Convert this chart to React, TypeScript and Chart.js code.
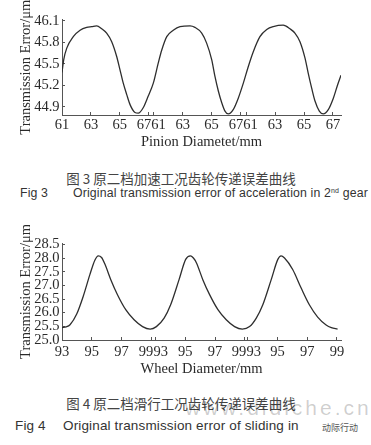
import React, { useEffect, useRef } from "react";
import { Chart, registerables } from "chart.js";
Chart.register(...registerables);

// ---------- Fig 3 : pinion ----------
const pinionX = [0, 0.12, 0.33, 0.78, 1.25, 1.71, 2.06, 2.40, 2.75, 3.09, 3.44, 3.79, 4.01, 4.24, 4.48, 4.71, 5.05, 5.28, 5.63, 5.97, 6.32, 6.66, 6.90, 7.25, 7.70, 8.17, 8.86, 9.20, 9.67, 10.01, 10.36, 10.59, 10.82, 11.05, 11.28, 11.51, 11.85, 12.20, 12.55, 12.89, 13.24, 13.70, 14.17, 14.62, 15.31, 15.78, 16.12, 16.47, 16.82, 17.04, 17.28, 17.51, 17.81, 18.08, 18.43, 18.78, 19.05, 19.31];
const pinionTE = [45.38, 45.56, 45.72, 45.88, 45.97, 46.01, 46.02, 46.03, 45.99, 45.93, 45.81, 45.60, 45.42, 45.23, 45.07, 44.93, 44.82, 44.81, 44.89, 45.05, 45.23, 45.51, 45.69, 45.88, 45.97, 46.02, 46.03, 46.01, 45.93, 45.79, 45.56, 45.32, 45.12, 44.96, 44.84, 44.80, 44.86, 45.02, 45.23, 45.46, 45.67, 45.88, 45.98, 46.02, 46.04, 45.99, 45.93, 45.81, 45.58, 45.37, 45.16, 44.98, 44.84, 44.80, 44.86, 45.02, 45.19, 45.34];
const pinionTickLabels = [61, 63, 65, 67];
const pinionPeriodStarts = [0, 6.35, 12.75];
const pinionYTicks = [44.9, 45.2, 45.5, 45.8, 46.1];

// ---------- Fig 4 : wheel ----------
const wheelX = [0, 0.27, 0.54, 0.99, 1.43, 1.88, 2.21, 2.44, 2.66, 2.87, 3.29, 3.74, 4.30, 4.85, 5.42, 5.93, 6.35, 6.87, 7.31, 7.87, 8.32, 8.64, 8.84, 9.04, 9.48, 9.93, 10.49, 11.05, 11.61, 12.13, 12.62, 13.07, 13.51, 14.07, 14.52, 14.74, 14.97, 15.52, 16.09, 16.64, 17.20, 17.77, 18.12, 18.54];
const wheelTE = [25.45, 25.48, 25.56, 25.95, 26.60, 27.40, 27.92, 28.08, 28.02, 27.80, 27.20, 26.65, 26.10, 25.74, 25.49, 25.40, 25.49, 25.80, 26.29, 27.20, 27.95, 28.08, 28.00, 27.83, 27.20, 26.66, 26.11, 25.74, 25.49, 25.40, 25.49, 25.80, 26.29, 27.20, 27.95, 28.08, 28.00, 27.58, 26.90, 26.29, 25.84, 25.55, 25.45, 25.40];
const wheelTickLabels = [93, 95, 97, 99];
const wheelPeriodStarts = [0, 6.3, 12.5];
const wheelYTicks = [25.0, 25.5, 26.0, 26.5, 27.0, 27.5, 28.0, 28.5];

const SERIF = "'Liberation Serif', 'Times New Roman', 'DejaVu Serif', serif";
const AXIS = "#555";
const TEXT = "#2a2a2a";
const LINE = "#2e2e2e";

type Props = {
  xs: number[];
  ys: number[];
  xMax: number;
  yMin: number;
  yMax: number;
  yTicks: number[];
  tickLabels: number[];
  periodStarts: number[];
  xTitle: string;
  height: number;
  padTop: number;
  xAxisH: number;
  titlePadBottom: number;
  labelPad: number;
};

function TEChart(p: Props) {
  const ref = useRef<HTMLCanvasElement>(null);
  useEffect(() => {
    const marks: { value: number; label: string }[] = [];
    p.periodStarts.forEach((s) => {
      p.tickLabels.forEach((l) => {
        marks.push({ value: s + (l - p.tickLabels[0]), label: String(l) });
      });
    });
    marks.sort((a, b) => a.value - b.value);
    // label positions: spread labels of ticks that sit too close together
    const labelPos = marks.map((m) => m.value);
    for (let i = 0; i < marks.length - 1; i++) {
      const gap = marks[i + 1].value - marks[i].value;
      if (gap < 1) {
        const mid = (marks[i + 1].value + marks[i].value) / 2;
        labelPos[i] = mid - 0.5;
        labelPos[i + 1] = mid + 0.5;
      }
    }
    const labelTexts = marks.map((m) => m.label);
    const tickFont = { family: SERIF, size: 14.5 };

    const chart = new Chart(ref.current as HTMLCanvasElement, {
      type: "line",
      data: {
        datasets: [
          {
            data: p.xs.map((x, i) => ({ x, y: p.ys[i] })),
            borderColor: LINE,
            borderWidth: 1.3,
            pointRadius: 0,
            fill: false,
            cubicInterpolationMode: "monotone",
          },
        ],
      },
      options: {
        animation: false,
        responsive: false,
        maintainAspectRatio: false,
        layout: { padding: { top: p.padTop, right: 30, left: 0, bottom: 0 } },
        plugins: { legend: { display: false }, tooltip: { enabled: false } },
        scales: {
          x: {
            type: "linear",
            min: 0,
            max: p.xMax,
            position: "bottom",
            weight: 0,
            grid: { display: true, drawOnChartArea: false, drawTicks: true, tickLength: -3, color: AXIS, lineWidth: 1 },
            border: { display: true, color: AXIS, width: 1 },
            ticks: { display: false, autoSkip: false },
            afterBuildTicks: (s: any) => {
              s.ticks = marks.map((m) => ({ value: m.value }));
            },
            afterFit: (s: any) => {
              s.height = 0;
            },
          },
          xl: {
            type: "linear",
            min: 0,
            max: p.xMax,
            position: "bottom",
            weight: 1,
            grid: { display: false, drawTicks: false },
            border: { display: false },
            ticks: {
              autoSkip: false,
              maxRotation: 0,
              minRotation: 0,
              padding: p.labelPad,
              color: TEXT,
              font: tickFont,
              callback: (_v: any, i: number) => labelTexts[i],
            },
            afterBuildTicks: (s: any) => {
              s.ticks = labelPos.map((v) => ({ value: v }));
            },
            title: {
              display: true,
              text: p.xTitle,
              color: TEXT,
              font: { family: SERIF, size: 14.5 },
              padding: { top: 0, bottom: p.titlePadBottom },
            },
            afterFit: (s: any) => {
              s.height = p.xAxisH;
            },
          },
          y: {
            type: "linear",
            min: p.yMin,
            max: p.yMax,
            grid: { display: true, drawOnChartArea: false, drawTicks: true, tickLength: -3, color: AXIS, lineWidth: 1 },
            border: { display: true, color: AXIS, width: 1 },
            ticks: {
              autoSkip: false,
              padding: 5.5,
              color: TEXT,
              font: tickFont,
              callback: (v: any) => Number(v).toFixed(1),
            },
            afterBuildTicks: (s: any) => {
              s.ticks = p.yTicks.map((v) => ({ value: v }));
            },
            title: {
              display: true,
              text: "Transmission Error/μm",
              color: TEXT,
              font: { family: SERIF, size: 14.5 },
              padding: { top: 17, bottom: 0 },
            },
            afterFit: (s: any) => {
              s.width = 62;
            },
          },
        },
      } as any,
    });
    return () => chart.destroy();
  }, []);
  return (
    <canvas
      ref={ref}
      width={371}
      height={p.height}
      style={{ display: "block", width: 371, height: p.height }}
    />
  );
}

const cjk: React.CSSProperties = {
  position: "absolute",
  left: 0,
  width: 362,
  textAlign: "center",
  fontFamily: "'Noto Sans CJK SC', sans-serif",
  fontSize: 13.5,
  lineHeight: "16px",
  color: "#444",
  whiteSpace: "nowrap",
};

const en = (size: number): React.CSSProperties => ({
  position: "absolute",
  fontFamily: "'Liberation Sans', Arial, sans-serif",
  fontSize: size,
  lineHeight: "16px",
  color: "#333",
  whiteSpace: "nowrap",
  letterSpacing: 0.15,
});

export default function App() {
  return (
    <div
      style={{
        position: "fixed",
        left: 0,
        top: 0,
        width: 371,
        height: 445,
        background: "#fff",
        overflow: "hidden",
      }}
    >
      <div style={{ position: "absolute", left: 0, top: 0 }}>
        <TEChart
          xs={pinionX}
          ys={pinionTE}
          xMax={19.31}
          yMin={44.785}
          yMax={46.12}
          yTicks={pinionYTicks}
          tickLabels={pinionTickLabels}
          periodStarts={pinionPeriodStarts}
          xTitle="Pinion Diametet/mm"
          height={155}
          padTop={19.5}
          xAxisH={40}
          titlePadBottom={3.8}
          labelPad={1.5}
        />
      </div>
      <div style={{ ...cjk, top: 170 }}>图 3 原二档加速工况齿轮传递误差曲线</div>
      <div style={{ ...en(12.3), left: 20, top: 185 }}>Fig 3</div>
      <div style={{ ...en(12.3), left: 73, top: 185 }}>
        Original transmission error of acceleration in 2
        <span style={{ fontSize: 7, position: "relative", top: -4 }}>nd</span> gear
      </div>

      <div style={{ position: "absolute", left: 0, top: 225 }}>
        <TEChart
          xs={wheelX}
          ys={wheelTE}
          xMax={18.77}
          yMin={25.0}
          yMax={28.55}
          yTicks={wheelYTicks}
          tickLabels={wheelTickLabels}
          periodStarts={wheelPeriodStarts}
          xTitle="Wheel Diameter/mm"
          height={155}
          padTop={18}
          xAxisH={40}
          titlePadBottom={2.3}
          labelPad={3}
        />
      </div>
      <div style={{ ...cjk, top: 394.5 }}>图 4 原二档滑行工况齿轮传递误差曲线</div>
      <div
        style={{
          position: "absolute",
          left: 185,
          top: 396,
          fontFamily: "'Liberation Sans', Arial, sans-serif",
          fontSize: 21,
          letterSpacing: 3,
          color: "rgba(0,0,0,0.2)",
          whiteSpace: "nowrap",
        }}
      >
        www.didiche.cn
      </div>
      <div style={{ ...en(13.5), left: 15, top: 418 }}>Fig 4</div>
      <div style={{ ...en(13.5), left: 63, top: 418 }}>Original transmission error of sliding in</div>
      <div
        style={{
          position: "absolute",
          left: 322,
          top: 421,
          fontFamily: "'Noto Sans CJK SC', sans-serif",
          fontSize: 9,
          color: "#555",
          whiteSpace: "nowrap",
        }}
      >
        动际行动
      </div>
    </div>
  );
}
